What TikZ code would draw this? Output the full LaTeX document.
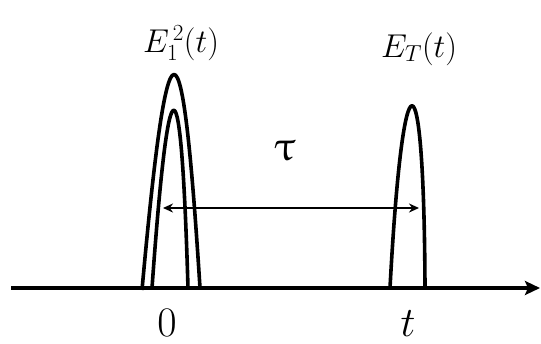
\RequirePackage{fix-cm}
\documentclass[tikz,border=0pt]{standalone}
\usepackage{upgreek}
\usepackage{tikz}
\usetikzlibrary{arrows.meta}

\begin{document}
\begin{tikzpicture}[x=1pt, y=-1pt,
  pulse/.style={line width=3.6pt, line join=round},
  axis/.style={line width=3.2pt, -{Stealth[length=15pt, width=14pt, inset=3pt]}},
  delay/.style={line width=2pt, {Stealth[length=10pt, width=9pt]}-{Stealth[length=10pt, width=9pt]}},
  lbl/.style={inner sep=0pt, font=\fontsize{33}{38}\selectfont},
  big/.style={inner sep=0pt, font=\fontsize{42}{48}\selectfont}
]
\useasboundingbox (0,0) rectangle (541,343);
% time axis
\coordinate (start) at (11,288);
\coordinate (end) at (540,288);
\draw[axis] (start) -- (end);
% pulses
\draw[pulse] (142,290) .. controls (168,3) and (182,3) .. (200,288);
\draw[pulse] (152,288) .. controls (169,51) and (181,51) .. (188,288);
\draw[pulse] (390,288) .. controls (403,45) and (424,45) .. (425,288);
% delay between pulses
\coordinate (tauL) at (163,208);
\coordinate (tauR) at (419,208);
\draw[delay] (tauL) -- (tauR);
% labels
\node[lbl, anchor=base west] (eone) at (143,52) {$E_{1}^{\,2}(t)$};
\node[lbl, anchor=base west] (etwo) at (381,57) {$E_{T}(t)$};
\node[big, anchor=base] (tau) at (285,160) {$\uptau$};
\node[big, anchor=base] (zero) at (167,336) {$0$};
\node[big, anchor=base] (time) at (408,336) {$t$};
\end{tikzpicture}
\end{document}
